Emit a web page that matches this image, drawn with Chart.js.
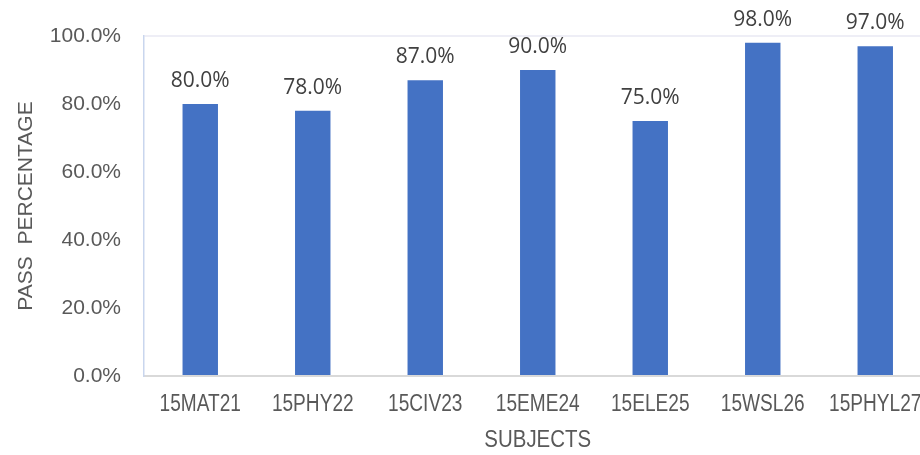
<!DOCTYPE html>
<html>
<head>
<meta charset="utf-8">
<script src="https://cdn.jsdelivr.net/npm/chart.js@4"></script>
<style>
  html, body { margin: 0; padding: 0; background: #fff; width: 920px; height: 455px; overflow: hidden; }
</style>
</head>
<body>
<canvas id="passChart" width="940" height="455"></canvas>
<script>
var subjects = ['15MAT21', '15PHY22', '15CIV23', '15EME24', '15ELE25', '15WSL26', '15PHYL27'];
var passPercent = [80, 78, 87, 90, 75, 98, 97];
var yTicks = [0, 20, 40, 60, 80, 100];
var xTitle = 'SUBJECTS';

// draws the value above each bar
var barLabels = {
    id: 'barLabels',
    afterDatasetsDraw: function(chart){
        var ctx = chart.ctx;
        var meta = chart.getDatasetMeta(0);
        ctx.save();
        ctx.font = '21px "Open Sans"';
        ctx.fillStyle = '#404040';
        ctx.textAlign = 'center';
        ctx.textBaseline = 'alphabetic';
        meta.data.forEach(function(bar, i){
            ctx.fillText(passPercent[i].toFixed(1) + '%', bar.x, bar.y - 17);
        });
        ctx.restore();
    }
};

// category labels + axis title in a narrow face (no Arial Narrow here, so squeeze the text)
var narrowTicks = {
    id: 'narrowTicks',
    afterDraw: function(chart){
        var ctx = chart.ctx;
        var xs = chart.scales.x;
        ctx.save();
        ctx.font = '23px "Liberation Sans"';
        ctx.fillStyle = '#595959';
        ctx.textAlign = 'center';
        ctx.textBaseline = 'middle';
        subjects.forEach(function(s, i){
            ctx.save();
            ctx.translate(xs.getPixelForTick(i), xs.top + 29);
            ctx.scale(0.83, 1);
            ctx.fillText(s, 0, 0);
            ctx.restore();
        });
        ctx.translate((xs.left + xs.right) / 2, xs.top + 65);
        ctx.scale(0.89, 1);
        ctx.fillText(xTitle, 0, 0);
        ctx.restore();
    }
};

var config = {
    type: 'bar',
    data: {
        labels: subjects,
        datasets: [{
            data: passPercent,
            backgroundColor: '#4472c4',
            barPercentage: 0.63,
            categoryPercentage: 0.5
        }]
    },
    options: {
        responsive: false,
        animation: false,
        layout: { padding: { top: 36, right: 8.5, left: 0, bottom: 0 } },
        plugins: { legend: { display: false }, tooltip: { enabled: false } },
        scales: {
            x: {
                grid: { display: false, drawTicks: false },
                border: { color: '#d9d9d9', width: 2 },
                ticks: { color: 'rgba(0,0,0,0)', padding: 16, maxRotation: 0, autoSkip: false, font: { family: '"Liberation Sans"', size: 17 } },
                title: { display: false },
                afterFit: function(scale){ scale.height = 79; }
            },
            y: {
                min: 0,
                max: 100,
                afterBuildTicks: function(scale){ scale.ticks = yTicks.map(function(v){ return { value: v }; }); },
                grid: {
                    drawTicks: false,
                    color: function(c){ return c.tick && c.tick.value === 100 ? '#eeeef6' : 'rgba(0,0,0,0)'; },
                    lineWidth: 2
                },
                border: { color: '#c9d6ee', width: 1.5 },
                ticks: {
                    color: '#595959', padding: 23,
                    font: { family: '"Liberation Sans"', size: 21 },
                    callback: function(v){ return v.toFixed(1) + '%'; }
                },
                title: { display: true, text: 'PASS  PERCENTAGE', color: '#595959', padding: { top: 14, bottom: 0 }, font: { family: '"Liberation Sans"', size: 21 } },
                afterFit: function(scale){ scale.width = 144; }
            }
        }
    },
    plugins: [barLabels, narrowTicks]
};

var chart = new Chart(document.getElementById('passChart').getContext('2d'), config);
</script>
</body>
</html>
